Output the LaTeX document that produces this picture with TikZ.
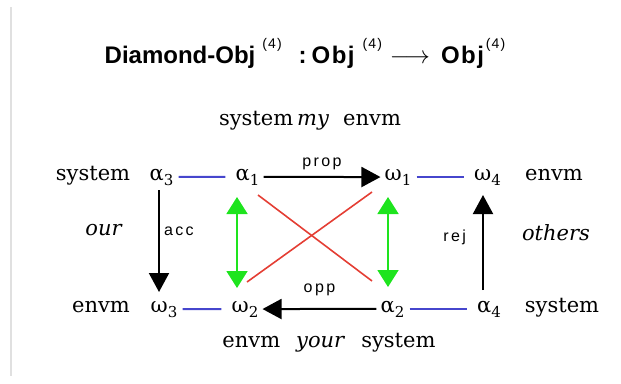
\documentclass[tikz,border=0pt]{standalone}
\usepackage{fontspec}
\setmainfont{DejaVu Serif}
\newfontfamily\titlefont{Liberation Sans}
\newfontfamily\objfont[LetterSpace=6]{Liberation Sans}
\newfontfamily\lblfont[LetterSpace=15]{Liberation Sans}
\newfontfamily\supfont[LetterSpace=8]{Liberation Sans}
\usetikzlibrary{arrows.meta}
\definecolor{LinkBlue}{RGB}{70,70,205}
\definecolor{CrossRed}{RGB}{228,62,52}
\definecolor{DualGreen}{RGB}{30,228,30}
\newcommand{\sbs}[1]{\raisebox{-5pt}{\fontsize{15}{15}\selectfont #1}}
\newcommand{\tsup}[1]{\raisebox{15pt}{\supfont\fontsize{14}{14}\selectfont\mdseries #1}}
\newcommand{\obj}{{\objfont Obj}}

\begin{document}
\begin{tikzpicture}[x=1pt, y=-1pt,
    title/.style={font=\titlefont\bfseries\fontsize{24}{24}\selectfont,
                  inner sep=0pt, anchor=base},
    word/.style={font=\fontsize{21}{21}\selectfont, inner sep=0pt, anchor=base},
    greek/.style={font=\fontsize{21}{21}\selectfont, inner sep=4pt, anchor=base},
    lbl/.style={font=\lblfont\fontsize{16}{16}\selectfont, inner sep=0pt},
    arr/.style={-{Triangle[length=19pt, width=20pt]}, line width=2pt},
    dual/.style={{Triangle[length=17pt, width=21pt]}-{Triangle[length=17pt, width=21pt]},
                 DualGreen, line width=1.8pt},
    link/.style={LinkBlue, line width=2pt, shorten <=1pt, shorten >=6pt},
    cross/.style={CrossRed, line width=1.6pt}
  ]
  \useasboundingbox (0,0) rectangle (621,383);
  \draw[black!12, line width=1.5pt] (11,7) -- (11,376);

  % title
  \node[title] (ttl) at (305,63)
    {Diamond-Obj\hspace{7pt}\tsup{(4)}\hspace{17pt}:\hspace{5pt}\obj\hspace{8pt}\tsup{(4)}\hspace{8pt}$\longrightarrow$\hspace{11pt}\obj\hspace{2pt}\tsup{(4)}};

  % corners of the diamond
  \node[greek] (a3) at (161.5,180) {α\sbs{3}};
  \node[greek] (a1) at (247.5,180) {α\sbs{1}};
  \node[greek] (w1) at (398,180)   {ω\sbs{1}};
  \node[greek] (w4) at (487.5,180) {ω\sbs{4}};
  \node[greek] (w3) at (164,312)   {ω\sbs{3}};
  \node[greek] (w2) at (245,312)   {ω\sbs{2}};
  \node[greek] (a2) at (392.5,312) {α\sbs{2}};
  \node[greek] (a4) at (489,312)   {α\sbs{4}};

  % side words
  \node[word] (sysL) at (93,180)  {system};
  \node[word] (envR) at (554,180) {envm};
  \node[word] (envL) at (101,312) {envm};
  \node[word] (sysR) at (562,312) {system};
  \node[word] (top)  at (310,125) {system\hspace{4pt}\textit{my}\hspace{14pt}envm};
  \node[word] (bot)  at (329,347) {envm\hspace{16pt}\textit{your}\hspace{16pt}system};
  \node[word] (our)  at (104,235) {\textit{our}};
  \node[word] (oth)  at (556,240) {\textit{others}};

  % connectors
  \draw[link] (a3) -- (a1);
  \draw[link] (w1) -- (w4);
  \draw[link] (w3) -- (w2);
  \draw[link] (a2) -- (a4);
  \draw[arr] (a1) -- node[lbl, above=6pt] {prop} (w1);
  \draw[arr] (a2) -- node[lbl, above=12pt] {opp} (w2);
  \draw[arr] ([xshift=-2.5pt, yshift=-10pt]a3.base) --
    node[lbl, right=4pt, pos=0.4] {acc} ([xshift=-5pt, yshift=20pt]w3.base);
  \draw[arr] ([xshift=-6pt, yshift=22pt]a4.base) --
    node[lbl, left=16pt, pos=0.55] {rej} ([xshift=-4.5pt, yshift=-15pt]w4.base);
  \draw[dual] ([xshift=-10.5pt, yshift=-17pt]a1.base) -- ([xshift=-8pt, yshift=24pt]w2.base);
  \draw[dual] ([xshift=-10pt, yshift=-17pt]w1.base) -- ([xshift=-4.5pt, yshift=25pt]a2.base);
  \draw[cross] ([xshift=10.5pt, yshift=-15pt]a1.base) -- ([xshift=-20.5pt, yshift=31pt]a2.base);
  \draw[cross] ([xshift=2pt, yshift=30pt]w2.base) -- ([xshift=-26pt, yshift=-12pt]w1.base);
\end{tikzpicture}
\end{document}
